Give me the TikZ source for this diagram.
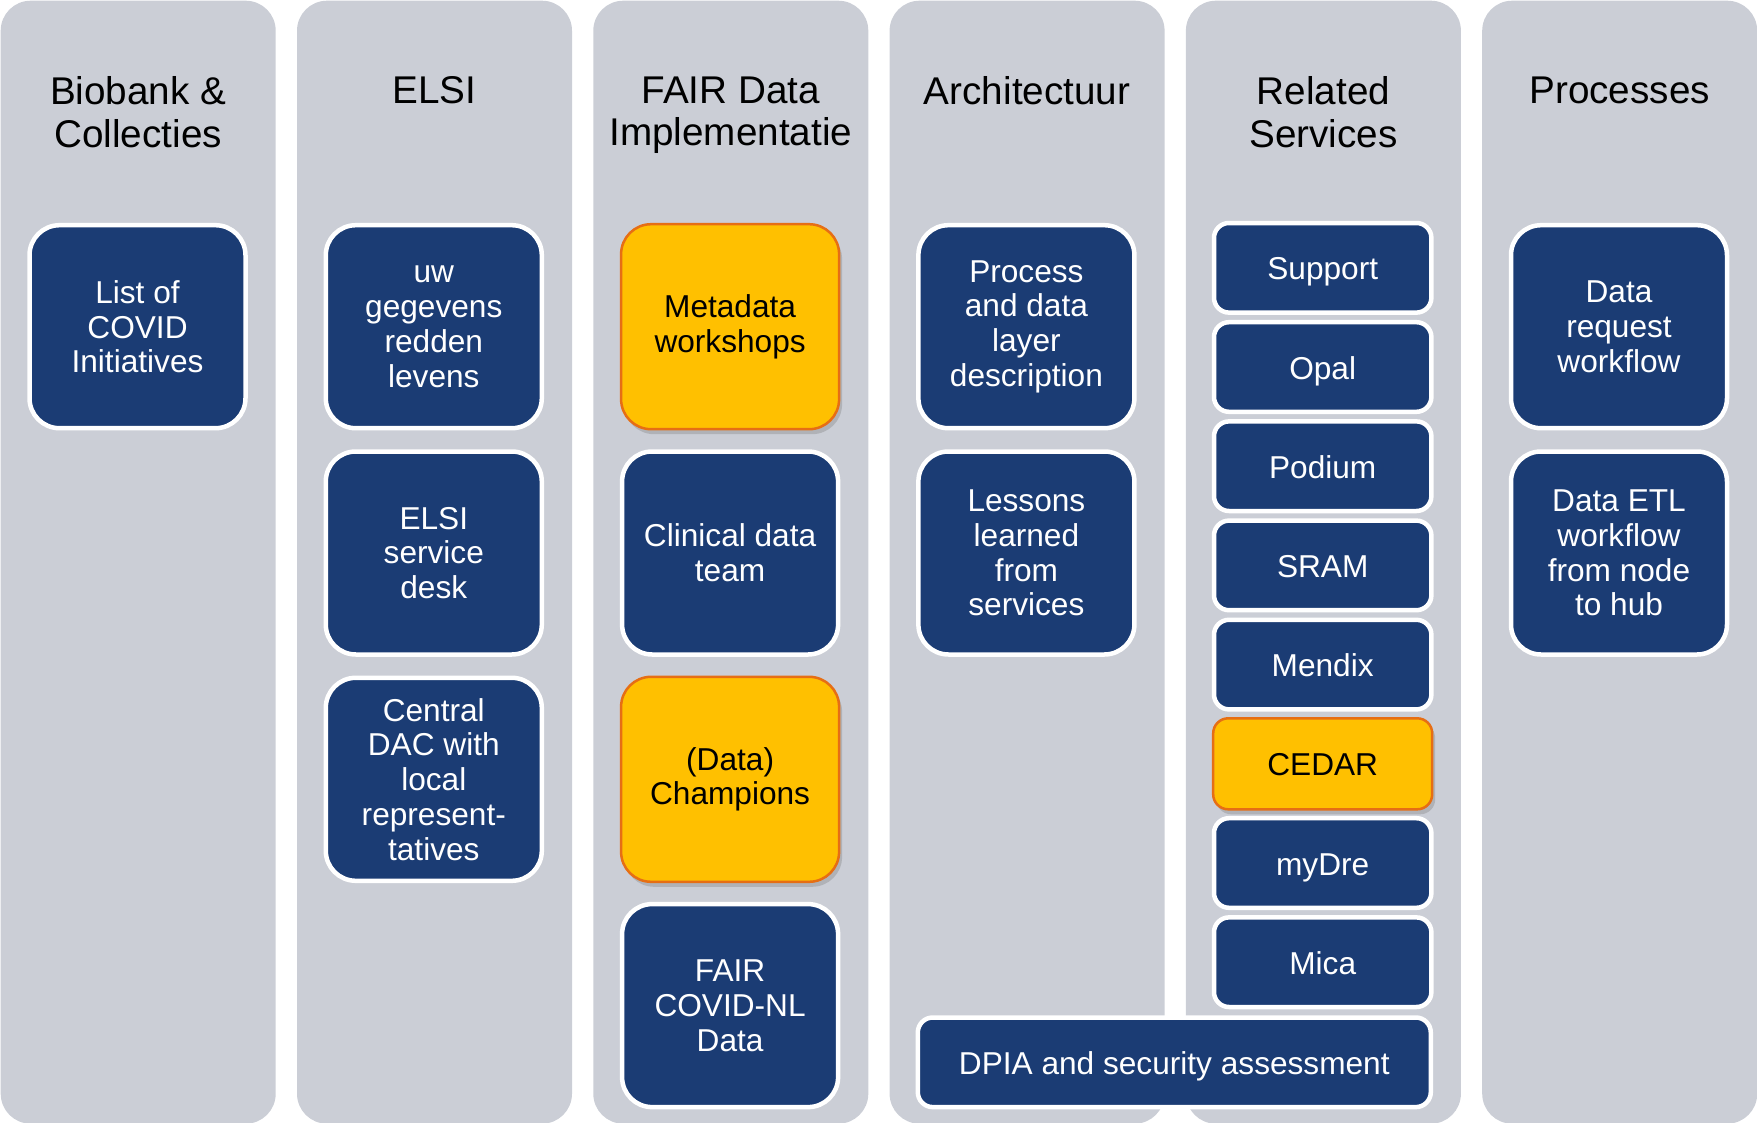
\documentclass[tikz,border=0pt]{standalone}
\usepackage{fontspec}
\setmainfont{Liberation Sans}
\usetikzlibrary{shapes,arrows,shadows}
\definecolor{panelgray}{RGB}{203,206,214}
\definecolor{boxblue}{RGB}{27,60,116}
\definecolor{boxorange}{RGB}{255,192,0}
\definecolor{edgeorange}{RGB}{230,110,20}
\tikzstyle{column} = [rectangle, rounded corners=3mm, fill=panelgray, minimum width=27.5mm, minimum height=112.3mm, inner sep=0pt, anchor=north west]
\tikzstyle{heading} = [anchor=north, align=center, inner sep=0pt, font=\fontsize{11}{12.1}\selectfont]
\tikzstyle{bigbox} = [rectangle, rounded corners=3mm, draw=white, line width=0.45mm, fill=boxblue, text=white, align=center, minimum width=21.6mm, minimum height=20.3mm, font=\fontsize{9}{9.9}\selectfont]
\tikzstyle{hotbox} = [bigbox, draw=edgeorange, line width=0.25mm, fill=boxorange, text=black, minimum width=21.8mm, minimum height=20.5mm, drop shadow={opacity=0.35, shadow xshift=0.3mm, shadow yshift=-0.5mm}]
\tikzstyle{smallbox} = [bigbox, rounded corners=1.5mm, minimum width=21.74mm, minimum height=8.96mm, text height=0.9em, text depth=0.21em]
\tikzstyle{hotsmall} = [hotbox, rounded corners=1.5mm, minimum width=21.9mm, minimum height=9.1mm, text height=0.9em, text depth=0.21em]

\begin{document}
\begin{tikzpicture}[node distance = 2.263cm, auto]
    \useasboundingbox (0,0) rectangle (17.57,-11.23);
    % Panels
    \foreach \i in {1,...,6}
        \node [column] (col\i) at ({(\i-1)*2.963},0) {};

    % Headings
    \node [heading] (head1) at ([yshift=-7.6mm]col1.north) {Biobank \&\\Collecties};
    \node [heading] (head2) at ([yshift=-7.6mm]col2.north) {ELSI};
    \node [heading] (head3) at ([yshift=-7.6mm]col3.north) {FAIR Data\\Implementatie};
    \node [heading] (head4) at ([yshift=-7.6mm]col4.north) {Architectuur};
    \node [heading] (head5) at ([yshift=-7.6mm]col5.north) {Related\\Services};
    \node [heading] (head6) at ([yshift=-7.6mm]col6.north) {Processes};

    % Place nodes
    \node [bigbox] (covidlist) at (1.375,-3.267) {List of\\COVID\\Initiatives};

    \node [bigbox] (gegevens) at (4.338,-3.267) {uw\\gegevens\\redden\\levens};
    \node [bigbox, below of=gegevens] (elsidesk) {ELSI\\service\\desk};
    \node [bigbox, below of=elsidesk] (centraldac) {Central\\DAC with\\local\\represent-\\tatives};

    \node [hotbox] (metadata) at (7.301,-3.267) {Metadata\\workshops};
    \node [bigbox, below of=metadata] (clinical) {Clinical data\\team};
    \node [hotbox, below of=clinical] (champions) {(Data)\\Champions};
    \node [bigbox, below of=champions] (fairdata) {FAIR\\COVID-NL\\Data};

    \node [bigbox] (layerdesc) at (10.264,-3.267) {Process\\and data\\layer\\description};
    \node [bigbox, below of=layerdesc] (lessons) {Lessons\\learned\\from\\services};

    \node [smallbox] (support) at (13.227,-2.678) {Support};
    \node [smallbox, below of=support, node distance=0.992cm] (opal) {Opal};
    \node [smallbox, below of=opal, node distance=0.992cm] (podium) {Podium};
    \node [smallbox, below of=podium, node distance=0.992cm] (sram) {SRAM};
    \node [smallbox, below of=sram, node distance=0.992cm] (mendix) {Mendix};
    \node [hotsmall, below of=mendix, node distance=0.992cm] (cedar) {CEDAR};
    \node [smallbox, below of=cedar, node distance=0.992cm] (mydre) {myDre};
    \node [smallbox, below of=mydre, node distance=0.992cm] (mica) {Mica};

    \node [smallbox, minimum width=51.3mm] (dpia) at (11.743,-10.623) {DPIA and security assessment};

    \node [bigbox] (request) at (16.190,-3.267) {Data\\request\\workflow};
    \node [bigbox, below of=request] (etl) {Data ETL\\workflow\\from node\\to hub};
\end{tikzpicture}
\end{document}
